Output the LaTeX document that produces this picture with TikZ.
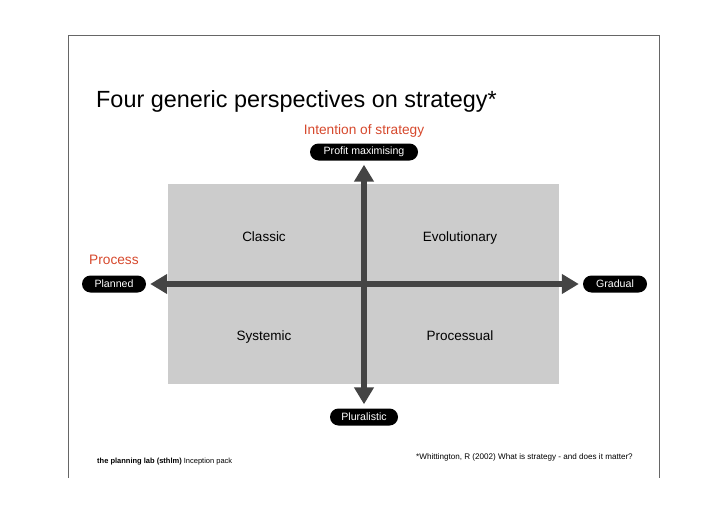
\documentclass[tikz,border=0pt]{standalone}
\usepackage{fontspec}
\setmainfont{Liberation Sans}
\usetikzlibrary{arrows.meta,positioning}
\definecolor{accent}{RGB}{214,72,44}
\definecolor{shaft}{RGB}{68,68,68}
\definecolor{field}{RGB}{204,204,204}

\begin{document}
\begin{tikzpicture}[x=1pt,y=-1pt,
    pole/.style={fill=black,text=white,rounded corners=8.5pt,minimum height=17pt,inner sep=0pt,font=\fontsize{10.6}{12}\selectfont},
    axis/.style={shaft,line width=6.5pt,{Triangle[length=17pt,width=19pt]}-{Triangle[length=17pt,width=19pt]},shorten <=4pt,shorten >=4pt},
    quad/.style={anchor=base,font=\fontsize{13.5}{16}\selectfont},
    heading/.style={text=accent,inner sep=0pt,font=\fontsize{13.7}{16}\selectfont},
    small/.style={anchor=base west,inner sep=0pt}]
    \useasboundingbox (0,0) rectangle (728,514);
    \draw[gray!80!black,line width=0.8pt] (68,478) -- (68,35) -- (659,35) -- (659,478);
    \node[small,font=\fontsize{23.4}{28}\selectfont] (title) at (96,107) {Four generic perspectives on strategy*};
    \fill[field] (168,184) rectangle (559,384);

    \node[pole,minimum width=108pt] (profit) at (364,152) {Profit maximising};
    \node[pole,minimum width=68pt] (plural) at (364,417) {Pluralistic};
    \node[pole,minimum width=64pt] (planned) at (114,284) {Planned};
    \node[pole,minimum width=64pt] (gradual) at (615,284) {Gradual};
    \draw[axis] (planned) -- (gradual);
    \draw[axis] (plural) -- (profit);

    \node[heading,anchor=base] (intent) at (364,134) {Intention of strategy};
    \node[heading,anchor=base west] (process) at (89,264) {Process};

    \foreach \name/\txt/\x/\y in {classic/Classic/264/241, evol/Evolutionary/460/241,
        systemic/Systemic/264/340, procs/Processual/460/340}
        \node[quad] (\name) at (\x,\y) {\txt};

    \node[small,font=\fontsize{7.5}{8}\selectfont] (lab) at (97,463) {\textbf{the planning lab (sthlm)} Inception pack};
    \node[small,font=\fontsize{8.1}{9}\selectfont] (cite) at (416,459) {*Whittington, R (2002) What is strategy - and does it matter?};
\end{tikzpicture}
\end{document}
